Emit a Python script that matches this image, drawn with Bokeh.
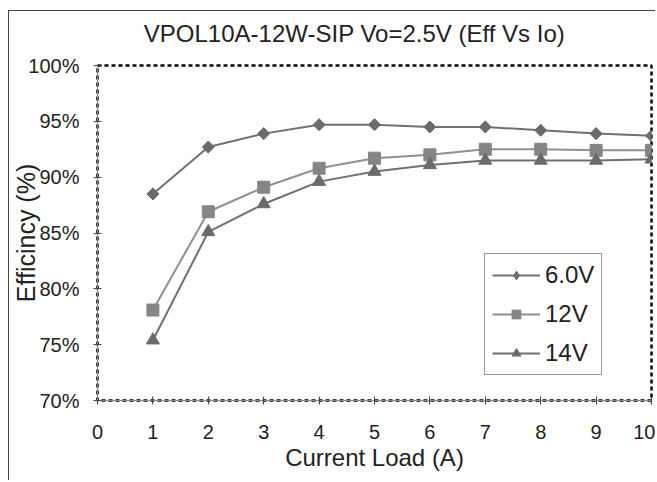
from bokeh.plotting import figure
from bokeh.models import (LinearAxis, PrintfTickFormatter, FixedTicker, Range1d,
                          Legend, LegendItem)
from bokeh.embed import file_html
from bokeh.resources import INLINE
import math

current = [1, 2, 3, 4, 5, 6, 7, 8, 9, 10]
eff_6v = [88.5, 92.7, 93.9, 94.7, 94.7, 94.5, 94.5, 94.2, 93.9, 93.7]
eff_12v = [78.1, 86.9, 89.1, 90.8, 91.7, 92.0, 92.5, 92.5, 92.4, 92.4]
eff_14v = [75.4, 85.1, 87.6, 89.6, 90.5, 91.1, 91.5, 91.5, 91.5, 91.6]
series_labels = ["6.0V", "12V", "14V"]
x_ticks = [0, 1, 2, 3, 4, 5, 6, 7, 8, 9, 10]
y_ticks = [70, 75, 80, 85, 90, 95, 100]
chart_title = "VPOL10A-12W-SIP Vo=2.5V (Eff Vs Io)"

FONT = "Liberation Sans"
TXT = "#222222"
C_DARK = "#6b6b6b"
C_LIGHT = "#858585"

p = figure(width=647, height=470, output_backend="svg", toolbar_location=None,
           x_range=Range1d(0, 10), y_range=Range1d(70, 100),
           min_border_left=88, min_border_right=5, min_border_top=54,
           min_border_bottom=81)
p.margin = (10, 0, 0, 8)
p.styles = {"border-left": "1px solid #444", "border-top": "1px solid #444"}

p.xgrid.visible = False
p.ygrid.visible = False
p.outline_line_color = "black"
p.outline_line_width = 2.5
p.outline_line_dash = "4 3"

for ax in (p.xaxis[0], p.yaxis[0]):
    ax.axis_line_color = "#888888"
    ax.axis_line_width = 1
    ax.major_tick_line_color = "#444444"
    ax.major_tick_in = 4
    ax.major_tick_out = 4
    ax.minor_tick_line_color = None
    ax.major_label_text_font = FONT
    ax.major_label_text_font_size = "20px"
    ax.major_label_text_color = TXT

p.xaxis.ticker = FixedTicker(ticks=x_ticks)
p.yaxis.ticker = FixedTicker(ticks=y_ticks)
p.yaxis.formatter = PrintfTickFormatter(format="%d%%")
p.xaxis.major_label_standoff = 20
p.yaxis.major_label_standoff = 14

p.yaxis.axis_label = "Efficincy (%)"
p.yaxis.axis_label_text_font = FONT
p.yaxis.axis_label_text_font_size = "25px"
p.yaxis.axis_label_text_font_style = "normal"
p.yaxis.axis_label_text_color = TXT
p.yaxis.axis_label_standoff = -15

p.xaxis.axis_label = "Current Load (A)"
p.xaxis.axis_label_text_font = FONT
p.xaxis.axis_label_text_font_size = "24px"
p.xaxis.axis_label_text_font_style = "normal"
p.xaxis.axis_label_text_color = TXT
p.xaxis.axis_label_standoff = 2

# chart title drawn as the label of a bare axis above the frame;
# trailing no-break spaces shift it left of the frame centre as in the original
title_axis = LinearAxis(ticker=FixedTicker(ticks=[]),
                        axis_label=chart_title + "\u00a0" * 6)
title_axis.axis_line_color = None
title_axis.major_tick_line_color = None
title_axis.minor_tick_line_color = None
title_axis.major_tick_in = 0
title_axis.major_tick_out = 0
title_axis.major_label_standoff = 0
title_axis.axis_label_text_font = FONT
title_axis.axis_label_text_font_size = "24px"
title_axis.axis_label_text_font_style = "normal"
title_axis.axis_label_text_color = TXT
title_axis.axis_label_standoff = 19
p.add_layout(title_axis, "above")

# small key-only markers, drawn first so the data markers cover them
k6 = p.scatter(current, eff_6v, marker="diamond", size=11,
               fill_color=C_DARK, line_color=C_DARK)
k12 = p.scatter(current, eff_12v, marker="square", size=9,
                fill_color=C_LIGHT, line_color=C_LIGHT)
k14 = p.scatter(current, eff_14v, marker="triangle", size=10,
                fill_color=C_DARK, line_color=C_DARK)

r6l = p.line(current, eff_6v, line_color="#707070", line_width=2)
p.scatter(current, eff_6v, marker="square", angle=math.pi / 4, size=8.5,
          fill_color=C_DARK, line_color=C_DARK)
r12l = p.line(current, eff_12v, line_color="#909090", line_width=2)
p.scatter(current, eff_12v, marker="square", size=12,
          fill_color=C_LIGHT, line_color=C_LIGHT)
r14l = p.line(current, eff_14v, line_color="#707070", line_width=2)
p.scatter(current, eff_14v, marker="triangle", size=13,
          fill_color=C_DARK, line_color=C_DARK)

legend = Legend(items=[
    LegendItem(label=series_labels[0], renderers=[r6l, k6]),
    LegendItem(label=series_labels[1], renderers=[r12l, k12]),
    LegendItem(label=series_labels[2], renderers=[r14l, k14]),
], location=(387, 25))
legend.border_line_color = "#333333"
legend.border_line_width = 1
legend.background_fill_color = "white"
legend.background_fill_alpha = 1
legend.label_text_font = FONT
legend.label_text_font_size = "24px"
legend.label_text_color = TXT
legend.glyph_width = 48
legend.glyph_height = 22
legend.label_height = 22
legend.spacing = 11
legend.padding = 7
legend.margin = 0
legend.label_standoff = 5
p.add_layout(legend, "center")

open("out.html", "w").write(file_html(p, INLINE))
